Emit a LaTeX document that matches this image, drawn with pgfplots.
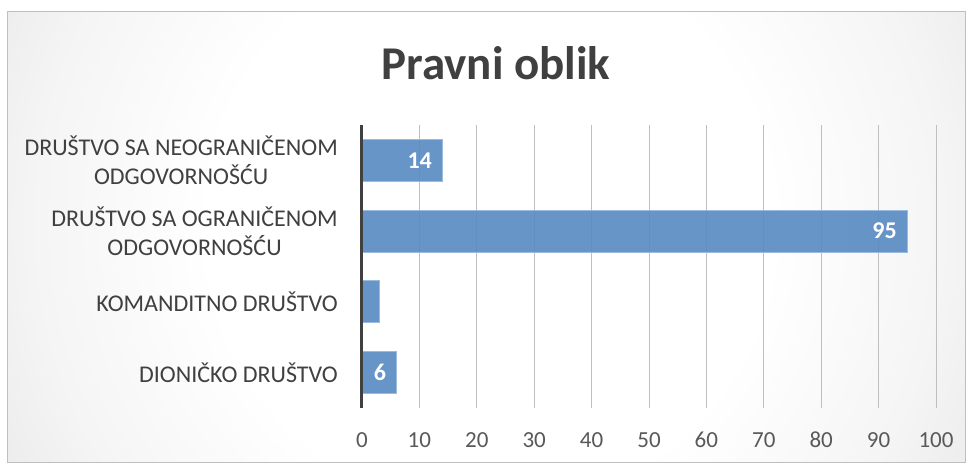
\documentclass[border=0pt]{standalone}
\usepackage{pgfplots}
\pgfplotsset{compat=1.18}
\usepackage{fontspec}
\setmainfont{Carlito}
\definecolor{barblue}{RGB}{87,138,194}
\definecolor{barline}{RGB}{155,187,222}
\definecolor{txtdark}{RGB}{64,64,64}
\definecolor{txtgray}{RGB}{89,89,89}
\definecolor{gridgray}{RGB}{191,191,191}
\pgfdeclareradialshading{bgshade}{\pgfpoint{0bp}{0bp}}{color(0bp)=(white); color(13bp)=(white); color(21bp)=(black!4); color(44bp)=(black!23); color(50bp)=(black!26)}
\begin{document}
\begin{tikzpicture}
\useasboundingbox (0,0) rectangle (970pt,464pt);
\fill[white] (0,0) rectangle (970pt,464pt);
\begin{scope}
\clip (7pt,2pt) rectangle (965pt,452pt);
\shade[shading=bgshade] (490pt,240pt) circle (540pt);
\end{scope}
\draw[color=black!25, line width=1pt] (7pt,2pt) rectangle (965pt,452pt);
\node[anchor=base, font=\fontsize{47}{56}\selectfont\bfseries, text=txtdark] at (496pt,384pt) {Pravni oblik};
\begin{axis}[
  at={(362pt,56pt)}, anchor=south west,
  scale only axis, width=574pt, height=283pt,
  clip=false,
  xbar, bar width=42pt, bar shift=0pt,
  xmin=0, xmax=100, ymin=-0.5, ymax=3.5,
  xtick={0,10,...,100},
  ytick={0,1,2,3},
  yticklabels={DIONIČKO DRUŠTVO, KOMANDITNO DRUŠTVO, {DRUŠTVO SA OGRANIČENOM\\ODGOVORNOŠĆU}, {DRUŠTVO SA NEOGRANIČENOM\\ODGOVORNOŠĆU}},
  major tick length=0pt,
  axis line style={draw=none},
  xmajorgrids, grid style={color=gridgray, line width=1pt},
  /pgf/number format/assume math mode=true,
  xticklabel style={font=\fontsize{23}{27}\selectfont, text=txtgray, inner sep=0pt, anchor=north, yshift=-24pt},
  yticklabel style={font=\fontsize{24}{29}\selectfont, text=txtdark, align=center, inner sep=0pt, anchor=east, xshift=-24pt},
  point meta=explicit symbolic,
  nodes near coords,
  nodes near coords style={font=\fontsize{24}{27}\selectfont\bfseries, text=white, anchor=east, xshift=-10pt, inner sep=0pt},
]
\addplot[fill=barblue, fill opacity=0.9, draw=barline, line width=1pt, text opacity=1] coordinates {(6,0)[6] (3,1)[] (95,2)[95] (14,3)[14]};
\draw[color=txtdark, line width=3pt] (axis cs:0,-0.5) -- (axis cs:0,3.5);
\end{axis}
\end{tikzpicture}
\end{document}
